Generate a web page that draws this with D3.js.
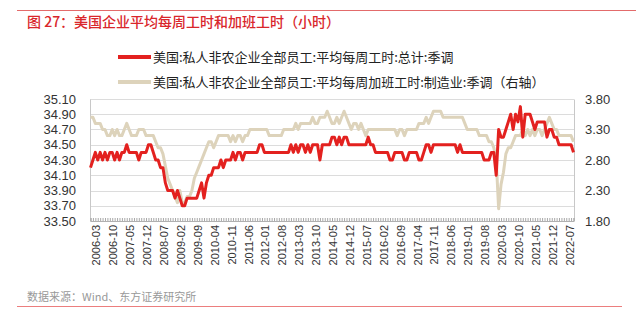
<!DOCTYPE html>
<html><head><meta charset="utf-8">
<script src="https://cdn.jsdelivr.net/npm/d3@7"></script>
<style>
body{margin:0;background:#fff;}
svg{display:block;}
</style></head>
<body>
<svg id="chart" width="636" height="323"></svg>
<script>
// ---- DATA ----
const startYear = 2006, startMonth = 3; // first observation 2006-03
// 美国:私人非农企业全部员工:平均每周工时:总计:季调 (left axis)
const hours2006 = [34.2,34.3,34.4,34.3,34.4,34.3,34.4,34.3,34.4,34.4];
const hours2007 = [34.3,34.4,34.3,34.4,34.4,34.5,34.4,34.4,34.4,34.4,34.3,34.4];
const hours2008 = [34.4,34.4,34.5,34.5,34.4,34.3,34.3,34.2,34.2,34.0,33.9,33.9];
const hours2009 = [33.9,33.8,33.9,33.8,33.7,33.7,33.8,33.8,33.8,33.8,33.8,33.9];
const hours2010 = [34.0,33.8,34.0,34.1,34.1,34.2,34.2,34.2,34.3,34.2,34.3,34.3];
const hours2011 = [34.3,34.4,34.3,34.4,34.4,34.3,34.4,34.4,34.4,34.4,34.4,34.4];
const hours2012 = [34.5,34.5,34.4,34.4,34.4,34.4,34.4,34.4,34.4,34.4,34.4,34.4];
const hours2013 = [34.4,34.5,34.4,34.5,34.4,34.5,34.5,34.4,34.5,34.4,34.5,34.5];
const hours2014 = [34.5,34.3,34.5,34.5,34.5,34.5,34.6,34.6,34.5,34.6,34.5,34.6];
const hours2015 = [34.6,34.5,34.5,34.5,34.5,34.5,34.5,34.5,34.5,34.6,34.5,34.5];
const hours2016 = [34.4,34.4,34.4,34.4,34.4,34.4,34.3,34.3,34.4,34.4,34.4,34.4];
const hours2017 = [34.3,34.3,34.4,34.4,34.4,34.4,34.3,34.3,34.4,34.5,34.5,34.4];
const hours2018 = [34.5,34.5,34.5,34.5,34.5,34.5,34.5,34.5,34.5,34.5,34.4,34.5];
const hours2019 = [34.4,34.4,34.4,34.4,34.4,34.4,34.4,34.4,34.4,34.3,34.3,34.3];
const hours2020 = [34.4,34.4,34.1,34.7,34.6,34.6,34.7,34.8,34.9,34.7,34.9,34.8];
const hours2021 = [35.0,34.6,34.9,34.9,34.9,34.8,34.7,34.8,34.8,34.8,34.8,34.6];
const hours2022 = [34.7,34.7,34.6,34.6,34.5,34.5,34.5,34.5,34.5,34.5,34.4];
// 美国:私人非农企业全部员工:平均每周加班工时:制造业:季调 (right axis)
const overtime2006 = [3.5,3.5,3.4,3.4,3.4,3.3,3.3,3.2,3.2,3.3];
const overtime2007 = [3.2,3.3,3.2,3.2,3.3,3.4,3.3,3.2,3.2,3.2,3.3,3.3];
const overtime2008 = [3.3,3.2,3.2,3.2,3.2,3.1,3.0,3.0,2.9,2.7,2.5,2.4];
const overtime2009 = [2.3,2.2,2.1,2.3,2.1,2.1,2.2,2.2,2.3,2.5,2.6,2.7];
const overtime2010 = [2.8,2.9,3.0,3.1,3.1,3.0,3.1,3.2,3.2,3.2,3.2,3.2];
const overtime2011 = [3.1,3.2,3.1,3.2,3.2,3.1,3.2,3.2,3.3,3.3,3.3,3.3];
const overtime2012 = [3.3,3.3,3.3,3.3,3.2,3.2,3.2,3.2,3.2,3.2,3.3,3.3];
const overtime2013 = [3.3,3.3,3.3,3.4,3.3,3.4,3.4,3.4,3.4,3.4,3.5,3.4];
const overtime2014 = [3.4,3.5,3.5,3.5,3.6,3.5,3.4,3.4,3.5,3.4,3.5,3.6];
const overtime2015 = [3.5,3.4,3.3,3.4,3.4,3.3,3.4,3.3,3.2,3.3,3.3,3.3];
const overtime2016 = [3.3,3.3,3.3,3.3,3.3,3.3,3.3,3.3,3.3,3.2,3.3,3.3];
const overtime2017 = [3.2,3.3,3.3,3.3,3.3,3.3,3.4,3.4,3.4,3.5,3.4,3.5];
const overtime2018 = [3.6,3.6,3.6,3.6,3.5,3.5,3.5,3.5,3.5,3.5,3.5,3.5];
const overtime2019 = [3.5,3.4,3.3,3.3,3.3,3.3,3.3,3.2,3.2,3.2,3.2,3.1];
const overtime2020 = [3.1,3.0,2.8,2.0,2.4,2.6,2.9,3.0,3.0,3.1,3.2,3.2];
const overtime2021 = [3.2,3.3,3.2,3.3,3.2,3.3,3.2,3.3,3.3,3.2,3.3,3.4];
const overtime2022 = [3.5,3.4,3.3,3.3,3.2,3.2,3.2,3.2,3.2,3.2,3.1];

const leftTicks = [33.50,33.70,33.90,34.10,34.30,34.50,34.70,34.90,35.10];
const rightTicks = [1.80,2.30,2.80,3.30,3.80];
const xTickLabels = ["2006-03","2006-10","2007-05","2007-12","2008-07","2009-02","2009-09","2010-04","2010-11","2011-06","2012-01","2012-08","2013-03","2013-10","2014-05","2014-12","2015-07","2016-02","2016-09","2017-04","2017-11","2018-06","2019-01","2019-08","2020-03","2020-10","2021-05","2021-12","2022-07"];
const seriesNames = ["美国:私人非农企业全部员工:平均每周工时:总计:季调","美国:私人非农企业全部员工:平均每周加班工时:制造业:季调（右轴）"];
const titleText = "图 27：美国企业平均每周工时和加班工时（小时）";
const sourceText = "数据来源：Wind、东方证券研究所";

// ---- BUILD ----
const hours = [].concat(hours2006,hours2007,hours2008,hours2009,hours2010,hours2011,hours2012,hours2013,hours2014,hours2015,hours2016,hours2017,hours2018,hours2019,hours2020,hours2021,hours2022);
const overtime = [].concat(overtime2006,overtime2007,overtime2008,overtime2009,overtime2010,overtime2011,overtime2012,overtime2013,overtime2014,overtime2015,overtime2016,overtime2017,overtime2018,overtime2019,overtime2020,overtime2021,overtime2022);
const months = hours.map((d,i)=>{
  const m = startMonth - 1 + i;
  const y = startYear + Math.floor(m/12);
  const mm = (m % 12) + 1;
  return y + "-" + (mm<10?"0":"") + mm;
});

const RED = "#e3211f", BEIGE = "#ddd3bb";
const svg = d3.select("#chart");
const L = 90, R = 574, T = 99, B = 221;

const x = d3.scalePoint().domain(months).range([L+0.5, R-0.5]);
const yL = d3.scaleLinear().domain([33.5,35.1]).range([B,T]);
const yR = d3.scaleLinear().domain([1.8,3.8]).range([B,T]);

// top / bottom rules
svg.append("line").attr("x1",17).attr("x2",636).attr("y1",10.5).attr("y2",10.5).attr("stroke","#e36b6b").attr("stroke-width",1);
svg.append("line").attr("x1",17).attr("x2",622).attr("y1",306.5).attr("y2",306.5).attr("stroke","#ec7e7e").attr("stroke-width",1.2);

svg.append("text").attr("x",27).attr("y",27).attr("fill","#d9262b")
  .attr("font-family","'Noto Sans CJK SC'").attr("font-size",14).attr("font-weight",500).text(titleText);
svg.append("text").attr("x",27).attr("y",301).attr("fill","#999")
  .attr("font-family","'Noto Sans CJK SC'").attr("font-size",11).text(sourceText);

// gridlines
svg.append("g").selectAll("line").data(leftTicks).join("line")
  .attr("x1",L).attr("x2",R).attr("y1",d=>Math.round(yL(d))+0.5).attr("y2",d=>Math.round(yL(d))+0.5)
  .attr("stroke","#dcdcdc").attr("stroke-width",1);

// axes
const axL = svg.append("g").attr("transform",`translate(${L},0)`)
  .call(d3.axisLeft(yL).tickValues(leftTicks).tickFormat(d3.format(".2f")).tickSize(0).tickPadding(14));
const axR = svg.append("g").attr("transform",`translate(${R},0)`)
  .call(d3.axisRight(yR).tickValues(rightTicks).tickFormat(d3.format(".2f")).tickSize(0).tickPadding(11));
[axL,axR].forEach(a=>{
  a.select(".domain").attr("stroke","#c8c8c8");
  a.selectAll("text").attr("font-family","'Liberation Sans',Arial,sans-serif").attr("font-size",13).attr("fill","#333");
});
const axB = svg.append("g").attr("transform",`translate(0,${B})`)
  .call(d3.axisTop(x).tickValues(months).tickSize(3).tickFormat(""));
axB.select(".domain").attr("stroke","#b0b0b0");
axB.selectAll(".tick line").attr("stroke","#a8a8a8");

svg.append("g").selectAll("text").data(xTickLabels).join("text")
  .attr("transform",d=>`translate(${x(d)+6},${B+4}) rotate(-90)`)
  .attr("text-anchor","end").attr("dy","0.35em")
  .attr("font-family","'Liberation Sans',Arial,sans-serif").attr("font-size",11).attr("fill","#333")
  .text(d=>d);

// lines
svg.append("path").datum(overtime).attr("fill","none").attr("stroke",BEIGE).attr("stroke-width",3)
  .attr("stroke-linejoin","round")
  .attr("d",d3.line().x((d,i)=>x(months[i])).y(d=>yR(d)));
svg.append("path").datum(hours).attr("fill","none").attr("stroke",RED).attr("stroke-width",3)
  .attr("stroke-linejoin","round")
  .attr("d",d3.line().x((d,i)=>x(months[i])).y(d=>yL(d)));

// legend
const lg = svg.append("g");
[[RED,57],[BEIGE,82]].forEach(([c,yy],k)=>{
  lg.append("line").attr("x1",118).attr("x2",151).attr("y1",yy).attr("y2",yy).attr("stroke",c).attr("stroke-width",4);
  lg.append("text").attr("x",153).attr("y",yy).attr("dy","0.36em").attr("fill","#222")
    .attr("font-family","'Noto Sans CJK SC'").attr("font-size",13).text(seriesNames[k]);
});
</script>
</body></html>
